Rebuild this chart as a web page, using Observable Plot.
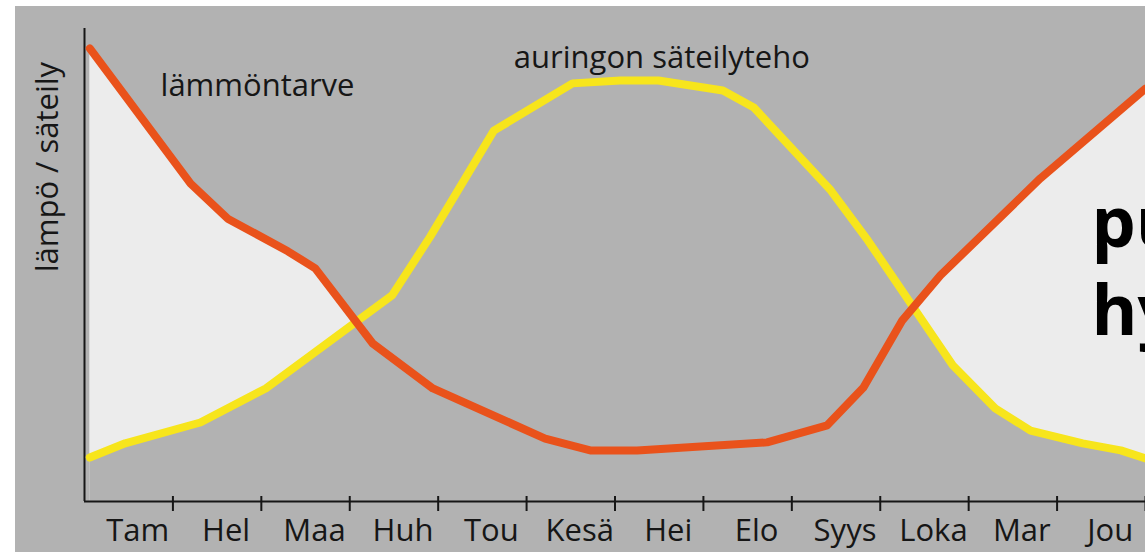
<!DOCTYPE html>
<html>
<head>
<meta charset="utf-8">
<script src="https://cdn.jsdelivr.net/npm/d3@7"></script>
<script src="https://cdn.jsdelivr.net/npm/@observablehq/plot@0.6"></script>
<style>
  html, body { margin: 0; padding: 0; background: #ffffff; }
  #chart { padding: 6px 0 0 15px; width: 1130px; height: 546px; overflow: hidden; }
  #chart svg { display: block; }
</style>
</head>
<body>
<div id="chart"></div>
<script>
// Month labels (categories)
const months = ["Tam", "Hel", "Maa", "Huh", "Tou", "Kesä", "Hei", "Elo", "Syys", "Loka", "Mar", "Jou"];

// Heat demand (lämmöntarve): position in months, relative value
const heatX = [0.06, 1.20, 1.62, 2.30, 2.61, 3.26, 3.94, 5.21, 5.72, 6.25, 7.72, 8.40, 8.81, 9.25, 9.68, 10.81, 12.0];
const heatY = [95.8, 67.2, 59.8, 52.9, 49.3, 33.4, 23.9, 13.3, 10.8, 10.8, 12.5, 16.1, 24.1, 38.3, 47.8, 68.3, 87.3];

// Solar radiation (auringon säteilyteho): position in months, relative value
const sunX = [0.06, 0.46, 1.31, 2.05, 3.48, 3.91, 4.63, 5.52, 6.06, 6.49, 7.22, 7.57, 8.44, 8.86, 9.82, 10.30, 10.70, 11.29, 11.72, 12.0];
const sunY = [9.3, 12.3, 16.7, 23.9, 43.6, 56.0, 78.4, 88.4, 89.0, 89.0, 86.9, 83.3, 65.8, 55.2, 28.8, 19.7, 15.0, 12.3, 10.8, 9.1];

// Month boundary ticks
const tickPositions = [1, 2, 3, 4, 5, 6, 7, 8, 9, 10, 11, 12];

const heat = heatX.map((x, i) => ({x, v: heatY[i]}));
const sun = sunX.map((x, i) => ({x, v: sunY[i]}));

const BG = "#b2b2b2";
const INK = "#161616";

const chart = Plot.plot({
  width: 1130,
  height: 546,
  marginLeft: 69,
  marginRight: 0,
  marginTop: 22,
  marginBottom: 51,
  x: {domain: [0, 12]},
  y: {domain: [0, 100], axis: null},
  style: {background: BG, fontFamily: "'Open Sans', sans-serif", fontSize: "31px", color: INK, overflow: "hidden"},
  marks: [
    Plot.areaY(heat, {x: "x", y: "v", fill: "#ececec", curve: "linear"}),
    Plot.areaY(sun, {x: "x", y: "v", fill: BG, curve: "linear"}),
    Plot.ruleX([0], {stroke: INK, strokeWidth: 2}),
    Plot.ruleY([0], {stroke: INK, strokeWidth: 2}),
    Plot.ruleX(tickPositions, {y1: -2.11, y2: 1.06, stroke: INK, strokeWidth: 2}),
    Plot.axisX({
      ticks: months.map((m, i) => i + 0.5),
      tickFormat: d => months[Math.floor(d)],
      tickSize: 0,
      tickPadding: 17,
      fontSize: 31,
      dx: 9,
      label: null,
      fill: INK
    }),
    Plot.line(sun, {x: "x", y: "v", stroke: "#f7e51c", strokeWidth: 8, strokeLinecap: "round", strokeLinejoin: "round"}),
    Plot.line(heat, {x: "x", y: "v", stroke: "#e9521b", strokeWidth: 8, strokeLinecap: "round", strokeLinejoin: "round"}),
    Plot.text(["lämmöntarve"], {x: 1.957, y: 85.8, text: d => d, lineAnchor: "bottom", fontSize: 31, fill: INK}),
    Plot.text(["auringon säteilyteho"], {x: 6.53, y: 91.6, text: d => d, lineAnchor: "bottom", fontSize: 31, fill: INK}),
    Plot.text(["lämpö / säteily"], {frameAnchor: "left", y: 70.7, dx: -27, rotate: -90, text: d => d, textAnchor: "middle", lineAnchor: "bottom", fontSize: 31, fill: INK}),
    Plot.text(["pu"], {x: 11.39, y: 53.9, text: d => d, textAnchor: "start", lineAnchor: "bottom", fontSize: 70, fontWeight: "bold", fill: "#000"}),
    Plot.text(["hy"], {x: 11.39, y: 35.1, text: d => d, textAnchor: "start", lineAnchor: "bottom", fontSize: 70, fontWeight: "bold", fill: "#000"})
  ]
});

document.getElementById("chart").appendChild(chart);
</script>
</body>
</html>
